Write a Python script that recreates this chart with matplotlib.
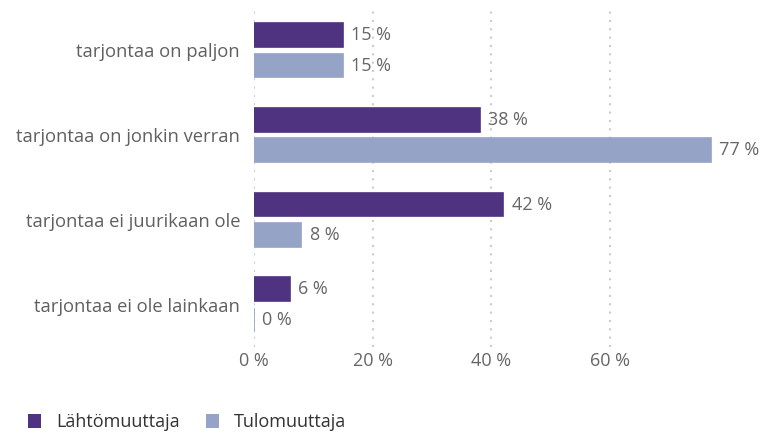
import matplotlib
matplotlib.use("Agg")
import matplotlib.pyplot as plt
from matplotlib.patches import Patch

plt.rcParams['font.family'] = ['Open Sans', 'DejaVu Sans']

categories = ["tarjontaa on paljon", "tarjontaa on jonkin verran",
              "tarjontaa ei juurikaan ole", "tarjontaa ei ole lainkaan"]
lahto = [15, 38, 42, 6]
tulo = [15, 77, 8, 0]
series_names = ["Lähtömuuttaja", "Tulomuuttaja"]
colors = ["#4f3280", "#95a3c6"]
xticks = [0, 20, 40, 60]

fig = plt.figure(figsize=(7.8, 4.38), dpi=100)
ax = fig.add_axes([0.3256, 0.208, 0.605, 0.774])

pos = list(range(len(categories)))
h = 0.28
off = 0.18
for vals, col, sign in [(lahto, colors[0], -1), (tulo, colors[1], 1)]:
    ys = [p + sign * off for p in pos]
    ax.barh(ys, vals, height=h, color=col, edgecolor=col, linewidth=1.2, zorder=3)
    for y, v in zip(ys, vals):
        ax.annotate(f"{v} %", (v, y), xytext=(6, 0), textcoords="offset points",
                    va="center", ha="left", fontsize=13, color="#666666")

ax.set_xlim(0, 79.5)
ax.set_ylim(len(categories) - 0.5, -0.5)
ax.set_yticks(pos)
ax.set_yticklabels(categories, fontsize=13.2, color="#606060")
ax.set_xticks(xticks)
ax.set_xticklabels([f"{t} %" for t in xticks], fontsize=13, color="#666666")
ax.tick_params(length=0, pad=4)
ax.tick_params(axis="y", pad=10)
for s in ax.spines.values():
    s.set_visible(False)
ax.grid(axis="x", color="#cccccc", linestyle=(0, (1, 3)), linewidth=1.5, zorder=0)

handles = [Patch(facecolor=c, label=n) for c, n in zip(colors, series_names)]
fig.legend(handles=handles, loc="lower left", bbox_to_anchor=(0.015, -0.022), ncol=2,
           frameon=False, fontsize=13, handlelength=0.75, handleheight=0.75,
           handletextpad=0.8, columnspacing=1.45, labelcolor="#333333")

fig.savefig("out.png", dpi=100)
